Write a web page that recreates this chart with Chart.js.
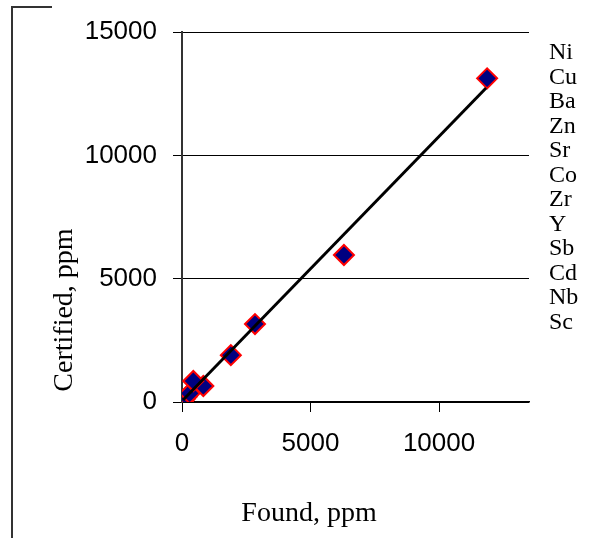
<!DOCTYPE html>
<html>
<head>
<meta charset="utf-8">
<script src="https://cdn.jsdelivr.net/npm/chart.js@4/dist/chart.umd.min.js"></script>
<style>
  html, body { margin: 0; padding: 0; background: #fff; }
  #wrap { width: 600px; height: 538px; }
</style>
</head>
<body>
<div id="wrap"><canvas id="certChart" width="600" height="538"></canvas></div>
<script>
// element names (legend order) and their found / certified values, ppm
const elements = ['Ni', 'Cu', 'Ba', 'Zn', 'Sr', 'Co', 'Zr', 'Y', 'Sb', 'Cd', 'Nb', 'Sc'];
const foundPpm =     [11870, 6300, 2840, 1900, 440, 830, 300, 180, 100, 40, 20, 5];
const certifiedPpm = [13120, 5960, 3160, 1900, 850, 650, 350, 215, 120, 60, 30, 10];

// fitted line end points
const fitFound = [40, 11830];
const fitCertified = [80, 12730];

const xTicks = [0, 5000, 10000];
const yTicks = [0, 5000, 10000, 15000];

const xTitle = 'Found, ppm';
const yTitle = 'Certified, ppm';

const canvas = document.getElementById('certChart');

// one dataset per element, all drawn with the same diamond
const pointSets = elements.map((name, i) => ({
  label: name,
  data: [{ x: foundPpm[i], y: certifiedPpm[i] }],
  pointStyle: 'rectRot',
  pointRadius: 10,
  pointHoverRadius: 10,
  backgroundColor: '#000080',
  borderColor: '#ff0000',
  pointBorderWidth: 2,
  showLine: false,
  order: 1
}));

const fitSet = {
  label: 'fit',
  data: fitFound.map((x, i) => ({ x: x, y: fitCertified[i] })),
  showLine: true,
  borderColor: '#000',
  borderWidth: 3,
  pointRadius: 0,
  fill: false,
  order: 0
};

// titles, text legend and the partial frame
const decor = {
  id: 'decor',
  afterDraw(chart) {
    const ctx = chart.ctx;
    ctx.save();
    ctx.strokeStyle = '#333';
    ctx.lineWidth = 2;
    ctx.beginPath();
    ctx.moveTo(52, 7);
    ctx.lineTo(12, 7);
    ctx.lineTo(12, 538);
    ctx.stroke();

    ctx.fillStyle = '#000';
    ctx.font = '28px "Liberation Serif", "Times New Roman", serif';
    ctx.textAlign = 'center';
    ctx.textBaseline = 'alphabetic';
    ctx.fillText(xTitle, 309, 521);

    ctx.save();
    ctx.translate(72, 310);
    ctx.rotate(-Math.PI / 2);
    ctx.fillText(yTitle, 0, 0);
    ctx.restore();

    ctx.font = '24px "Liberation Serif", "Times New Roman", serif';
    ctx.textAlign = 'left';
    ctx.textBaseline = 'middle';
    elements.forEach((name, i) => {
      ctx.fillText(name, 549, 53 + i * 24.5);
    });
    ctx.restore();
  }
};

new Chart(canvas, {
  type: 'scatter',
  data: { datasets: [fitSet, ...pointSets] },
  options: {
    responsive: false,
    animation: false,
    layout: { padding: { left: 0, right: 71, top: 32, bottom: 0 } },
    plugins: {
      legend: { display: false },
      tooltip: { enabled: false }
    },
    scales: {
      x: {
        type: 'linear',
        min: 0,
        max: 13500,
        afterFit: (s) => { s.height = 136; },
        afterBuildTicks: (s) => { s.ticks = xTicks.map(v => ({ value: v })); },
        ticks: {
          color: '#000',
          padding: 16,
          maxRotation: 0,
          callback: (v) => String(v),
          font: { family: '"Liberation Sans", Arial, sans-serif', size: 26 }
        },
        grid: { drawOnChartArea: false, drawTicks: true, tickLength: 10, color: '#000' },
        border: { display: true, color: '#000', width: 1.5 }
      },
      y: {
        type: 'linear',
        min: 0,
        max: 15000,
        afterFit: (s) => { s.width = 182; },
        afterBuildTicks: (s) => { s.ticks = yTicks.map(v => ({ value: v })); },
        ticks: {
          color: '#000',
          padding: 16,
          callback: (v) => String(v),
          font: { family: '"Liberation Sans", Arial, sans-serif', size: 26 }
        },
        grid: { color: '#000', lineWidth: 1, tickLength: 9 },
        border: { display: true, color: '#333', width: 2 }
      }
    }
  },
  plugins: [decor]
});
</script>
</body>
</html>
